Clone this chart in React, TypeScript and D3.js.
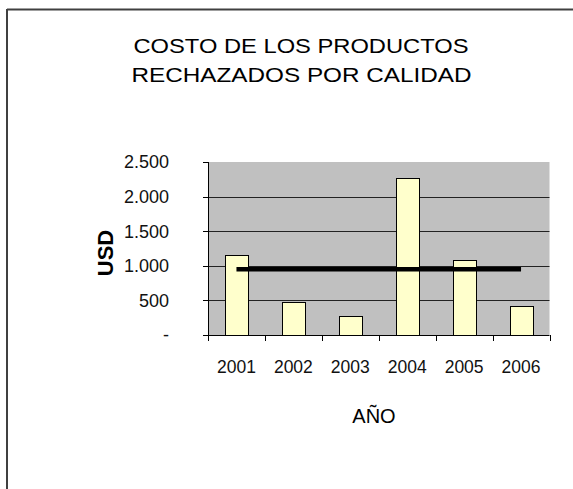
import React from "react";
import * as d3 from "d3";

const years = ["2001", "2002", "2003", "2004", "2005", "2006"];
const costs = [1150, 480, 275, 2270, 1080, 420];
const avgValues = [950, 950, 950, 950, 950, 950];
const yTicks = [0, 500, 1000, 1500, 2000, 2500];
const yTickLabels = ["-", "500", "1.000", "1.500", "2.000", "2.500"];
const titleLines = ["COSTO DE LOS PRODUCTOS", "RECHAZADOS POR CALIDAD"];

export default function App() {
  const W = 573, H = 489;
  const left = 208, right = 549.5, top = 162, bottom = 335;
  const x = d3.scaleBand<string>().domain(years).range([left, right]).paddingInner(0).paddingOuter(0);
  const y = d3.scaleLinear().domain([0, 2500]).range([bottom, top]);
  const barW = 23;
  const line = d3
    .line<number>()
    .x((_, i) => (x(years[i]) as number) + x.bandwidth() / 2)
    .y((d) => y(d));
  const boundaries = years.map((yr) => x(yr) as number).concat([right]);
  const font = "'Liberation Sans', Arial, sans-serif";

  return (
    <svg width={W} height={H} style={{ position: "absolute", left: 0, top: 0, background: "#fff" }} fontFamily={font}>
      <rect x={0} y={0} width={W} height={H} fill="#fff" />
      {/* outer border (top and left) */}
      <line x1={7} y1={9.5} x2={W} y2={9.5} stroke="#404040" strokeWidth={2} />
      <line x1={7} y1={9} x2={7} y2={H} stroke="#404040" strokeWidth={2} />

      {/* title */}
      <text x={301} y={52.5} fontSize={19.5} textAnchor="middle" textLength={335} lengthAdjust="spacingAndGlyphs" fill="#000">
        {titleLines[0]}
      </text>
      <text x={301.5} y={81.5} fontSize={19.5} textAnchor="middle" textLength={340} lengthAdjust="spacingAndGlyphs" fill="#000">
        {titleLines[1]}
      </text>

      {/* plot area */}
      <rect x={left} y={top} width={right - left} height={bottom - top} fill="#c0c0c0" />
      {yTicks.filter((t) => t > 0 && t < 2500).map((t) => (
        <line key={t} x1={left} x2={right} y1={Math.round(y(t)) + 0.5} y2={Math.round(y(t)) + 0.5} stroke="#222" strokeWidth={1} />
      ))}

      {/* bars */}
      {costs.map((v, i) => {
        const cx = (x(years[i]) as number) + x.bandwidth() / 2;
        return (
          <rect
            key={years[i]}
            x={Math.round(cx - barW / 2) + 0.5}
            y={Math.round(y(v)) + 0.5}
            width={barW}
            height={Math.round(bottom - y(v))}
            fill="#ffffcc"
            stroke="#000"
            strokeWidth={1}
          />
        );
      })}

      {/* average line */}
      <path d={line(avgValues) || ""} fill="none" stroke="#000" strokeWidth={4.5} />

      {/* axes */}
      <line x1={left + 0.5} x2={left + 0.5} y1={top} y2={bottom + 0.5} stroke="#000" strokeWidth={1} />
      <line x1={left} x2={right} y1={bottom + 0.5} y2={bottom + 0.5} stroke="#000" strokeWidth={1} />
      {yTicks.map((t, i) => (
        <g key={t}>
          <line x1={203} x2={left} y1={Math.round(y(t)) + 0.5} y2={Math.round(y(t)) + 0.5} stroke="#000" strokeWidth={1} />
          <text x={169} y={y(t)} dy="0.36em" fontSize={18} textAnchor="end" fill="#111">
            {yTickLabels[i]}
          </text>
        </g>
      ))}
      {boundaries.map((bx, i) => (
        <line key={i} x1={Math.round(bx) + 0.5} x2={Math.round(bx) + 0.5} y1={bottom} y2={bottom + 6} stroke="#000" strokeWidth={1} />
      ))}
      {years.map((yr) => (
        <text key={yr} x={(x(yr) as number) + x.bandwidth() / 2} y={373} fontSize={17.5} textAnchor="middle" fill="#111">
          {yr}
        </text>
      ))}

      {/* axis titles */}
      <text x={374} y={423} fontSize={20} textAnchor="middle" fill="#000">
        AÑO
      </text>
      <text transform="translate(113,253) rotate(-90)" fontSize={22} fontWeight="bold" textAnchor="middle" fill="#000">
        USD
      </text>
    </svg>
  );
}
